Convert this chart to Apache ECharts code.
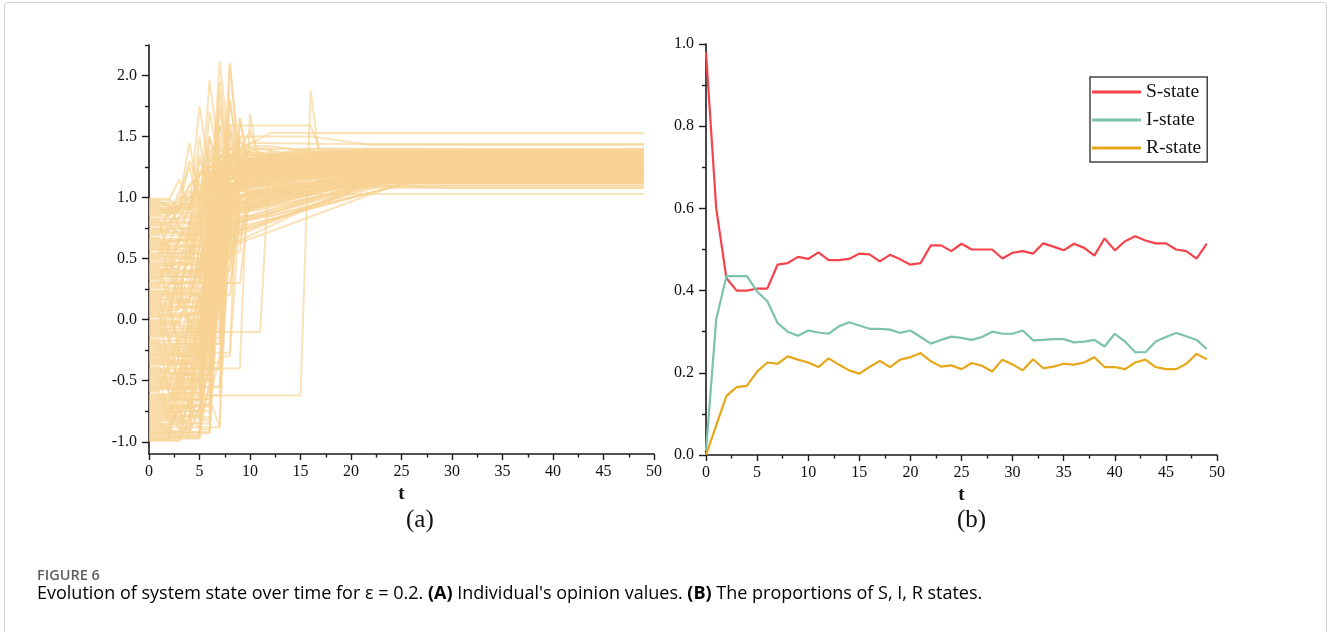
<!DOCTYPE html>
<html>
<head>
<meta charset="utf-8">
<script src="https://cdn.jsdelivr.net/npm/echarts@6/dist/echarts.min.js"></script>
<style>
html, body { margin: 0; padding: 0; background: #fff; }
#frame { position: absolute; left: 4px; top: 2px; width: 1321px; height: 660px; border: 1px solid #cfcfcf; border-radius: 4px; }
#main { position: absolute; left: 0; top: 0; width: 1328px; height: 632px; }
</style>
</head>
<body>
<div id="frame"></div>
<div id="main"></div>
<script>
// panel (a): each individual's opinion as [t, value, t, value, ...]; last value holds to t = 49
const opinionPaths = [
    [0,0.98, 2,0.98, 3,1.15, 4,0.9, 6,1.1, 10,1.2],
    [0,0.96, 3,0.96, 4,1.45, 5,1.0, 8,1.25, 14,1.3],
    [0,0.95, 2,0.95, 3,0.75, 5,1.1, 12,1.28],
    [0,0.93, 1,0.93, 2,0.85, 4,1.25, 5,0.95, 9,1.2, 20,1.35],
    [0,0.91, 4,0.91, 5,1.75, 6,1.2, 15,1.32],
    [0,0.89, 3,0.89, 4,1.05, 6,0.9, 7,1.6, 8,1.2, 18,1.38],
    [0,0.87, 5,0.87, 6,1.96, 7,1.3, 12,1.25],
    [0,0.85, 2,0.85, 3,0.95, 4,1.1, 8,1.4, 12,1.3],
    [0,0.83, 6,0.83, 7,2.12, 8,1.35, 11,1.4, 20,1.27],
    [0,0.81, 1,0.81, 2,0.5, 4,0.5, 5,1.35, 6,1.0, 10,1.15, 20,1.22],
    [0,0.79, 7,0.79, 8,2.1, 9,1.3, 16,1.25],
    [0,0.77, 3,0.77, 4,0.6, 6,0.6, 7,1.1, 9,1.05, 17,1.2],
    [0,0.75, 5,0.75, 6,1.7, 7,1.25, 49,1.36],
    [0,0.73, 2,0.73, 3,0.95, 5,0.95, 6,1.3, 9,1.45, 12,1.33],
    [0,0.71, 4,0.71, 5,1.5, 6,0.95, 8,0.85, 18,1.18],
    [0,0.69, 6,0.69, 7,1.85, 8,1.1, 15,1.3],
    [0,0.67, 1,0.67, 2,0.35, 5,0.35, 6,0.8, 9,0.9, 21,1.17],
    [0,0.65, 7,0.65, 8,1.8, 9,1.25, 14,1.38],
    [0,0.63, 3,0.63, 4,0.95, 7,1.25, 8,1.59, 16,1.59, 17,1.38],
    [0,0.61, 8,0.61, 9,1.65, 10,1.2, 20,1.3],
    [0,0.59, 2,0.59, 3,0.2, 6,0.2, 7,0.7, 10,0.75, 24,1.15],
    [0,0.57, 5,0.57, 6,1.5, 7,1.05, 12,1.2, 49,1.24],
    [0,0.55, 9,0.55, 10,1.3, 14,1.25],
    [0,0.53, 1,0.53, 2,0.8, 4,0.8, 5,1.2, 7,1.3, 12,1.53],
    [0,0.51, 4,0.51, 5,0.9, 7,0.9, 8,1.55, 9,1.15, 19,1.28],
    [0,0.49, 2,0.49, 3,0.1, 5,0.1, 6,0.65, 9,0.7, 22,1.12],
    [0,0.47, 6,0.47, 7,1.6, 8,1.2, 13,1.33],
    [0,0.45, 3,0.45, 4,0.75, 8,0.75, 9,1.5, 10,1.25, 49,1.3],
    [0,0.43, 1,0.43, 2,0.15, 4,0.15, 5,0.55, 8,0.6, 25,1.12],
    [0,0.41, 7,0.41, 8,1.55, 9,1.1, 18,1.2],
    [0,0.39, 5,0.39, 6,1.2, 10,1.45, 18,1.44],
    [0,0.37, 2,0.37, 3,0.65, 5,0.65, 6,0.4, 7,0.9, 11,1.0, 20,1.16],
    [0,0.35, 4,0.35, 5,1.0, 6,1.0, 7,1.4, 9,1.25, 49,1.26],
    [0,0.33, 3,0.33, 4,-0.1, 6,-0.1, 7,0.85, 12,0.95, 23,1.15],
    [0,0.30, 9,0.30, 10,1.05, 18,1.1, 26,1.18],
    [0,0.28, 1,0.28, 2,0.6, 6,0.6, 7,1.35, 10,1.3],
    [0,0.26, 5,0.26, 6,0.75, 8,0.7, 9,1.2, 16,1.32],
    [0,0.24, 2,0.24, 3,-0.35, 4,-0.35, 5,0.45, 8,0.5, 9,0.9, 20,1.1, 28,1.16],
    [0,0.22, 6,0.22, 7,1.05, 9,1.1, 15,1.27],
    [0,0.20, 3,0.20, 4,0.55, 7,0.55, 8,1.2, 12,1.35],
    [0,0.18, 1,0.18, 2,-0.2, 5,-0.2, 6,0.3, 7,0.3, 8,0.95, 14,1.05, 24,1.2],
    [0,0.16, 4,0.16, 5,0.6, 6,0.6, 7,1.45, 8,1.2, 49,1.22],
    [0,0.14, 7,0.14, 8,1.0, 10,0.9, 21,1.13],
    [0,0.12, 2,0.12, 3,0.4, 5,0.4, 6,1.1, 8,1.3, 16,1.4],
    [0,0.10, 5,0.10, 6,0.5, 8,0.5, 9,0.85, 12,0.85, 25,1.14],
    [0,0.08, 3,0.08, 4,0.8, 5,0.7, 6,1.25, 7,1.35, 14,1.3],
    [0,0.06, 1,0.06, 2,-0.45, 4,-0.45, 5,0.2, 7,0.2, 8,1.25, 13,1.2],
    [0,0.04, 6,0.04, 7,0.6, 9,0.65, 10,0.95, 19,1.15],
    [0,0.02, 4,0.02, 5,-0.3, 6,-0.3, 7,0.9, 12,1.1, 22,1.24],
    [0,0.00, 2,0.00, 3,0.5, 6,0.5, 7,1.5, 8,1.1, 16,1.35],
    [0,-0.02, 5,-0.02, 6,0.35, 7,0.35, 8,0.8, 11,0.85, 24,1.17],
    [0,-0.04, 3,-0.04, 4,0.3, 5,0.3, 6,1.0, 8,1.35, 49,1.37],
    [0,-0.06, 1,-0.06, 2,0.25, 4,0.25, 5,0.9, 7,1.0, 13,1.2],
    [0,-0.08, 7,-0.08, 8,1.0, 9,1.25, 49,1.34],
    [0,-0.10, 11,-0.10, 12,1.4, 13,1.2, 49,1.23],
    [0,-0.12, 2,-0.12, 3,-0.55, 5,-0.55, 6,0.1, 7,0.1, 8,0.7, 11,0.8, 26,1.13],
    [0,-0.14, 4,-0.14, 5,0.65, 6,0.65, 7,1.3, 11,1.28],
    [0,-0.17, 6,-0.17, 7,0.5, 8,0.5, 9,1.1, 15,1.25],
    [0,-0.19, 1,-0.19, 2,-0.6, 3,-0.6, 4,0.05, 6,0.05, 7,1.25, 9,1.2],
    [0,-0.21, 3,-0.21, 4,0.15, 6,0.15, 7,0.8, 10,0.85, 24,1.18],
    [0,-0.23, 5,-0.23, 6,0.4, 8,0.4, 9,1.0, 17,1.2],
    [0,-0.25, 3,-0.25, 4,-0.05, 6,-0.05, 7,1.1, 8,1.2, 49,1.3],
    [0,-0.27, 8,-0.27, 9,1.65, 10,1.2, 22,1.22],
    [0,-0.29, 4,-0.29, 5,-0.05, 7,-0.05, 8,0.9, 12,1.0, 25,1.2],
    [0,-0.31, 2,-0.31, 3,-0.5, 5,-0.5, 6,0.7, 7,0.75, 8,1.1, 14,1.36],
    [0,-0.33, 6,-0.33, 7,0.2, 8,0.2, 9,0.95, 20,1.2],
    [0,-0.35, 3,-0.35, 4,-0.75, 5,-0.75, 6,0.3, 7,0.3, 8,1.15, 12,1.27],
    [0,-0.37, 5,-0.37, 6,1.2, 9,1.3, 49,1.32],
    [0,-0.40, 9,-0.40, 10,1.69, 11,1.2, 20,1.25],
    [0,-0.42, 2,-0.42, 3,-0.1, 5,-0.1, 6,0.55, 7,0.55, 8,1.0, 12,1.08, 23,1.2],
    [0,-0.44, 5,-0.44, 6,-0.15, 7,-0.15, 8,0.95, 9,1.2],
    [0,-0.46, 1,-0.46, 2,-0.8, 4,-0.8, 5,-0.2, 6,-0.2, 7,1.1, 10,1.15, 49,1.16],
    [0,-0.48, 6,-0.48, 7,0.7, 10,0.75, 23,1.14],
    [0,-0.50, 3,-0.50, 4,-0.15, 5,-0.15, 6,0.85, 7,1.95, 8,1.25, 49,1.3],
    [0,-0.52, 5,-0.52, 6,-0.1, 7,-0.1, 8,0.75, 11,0.8, 27,1.15],
    [0,-0.54, 2,-0.54, 3,-0.3, 6,-0.3, 7,1.0, 9,1.18],
    [0,-0.56, 4,-0.56, 5,0.0, 6,0.0, 7,1.2, 9,1.4, 49,1.39],
    [0,-0.58, 1,-0.58, 2,-0.35, 5,-0.35, 6,0.3, 7,1.0, 10,1.25],
    [0,-0.62, 15,-0.62, 16,1.88, 17,1.25],
    [0,-0.64, 3,-0.64, 4,-0.2, 5,-0.2, 6,0.6, 8,0.6, 9,1.0, 18,1.12],
    [0,-0.66, 5,-0.66, 6,-0.4, 7,-0.4, 8,1.1, 11,1.2],
    [0,-0.68, 2,-0.68, 3,-0.9, 4,-0.9, 5,0.1, 6,0.1, 7,1.15, 13,1.3],
    [0,-0.70, 6,-0.70, 7,0.4, 8,0.4, 9,0.95, 14,1.0, 22,1.15],
    [0,-0.72, 4,-0.72, 5,-0.45, 6,-0.45, 7,0.8, 8,1.8, 9,1.2, 49,1.28],
    [0,-0.74, 2,-0.74, 3,-0.5, 6,-0.5, 7,1.3, 10,1.35],
    [0,-0.76, 3,-0.76, 4,-0.25, 6,-0.25, 7,0.75, 9,0.8, 21,1.1, 30,1.08],
    [0,-0.78, 5,-0.78, 6,0.2, 7,0.2, 8,1.2, 12,1.25],
    [0,-0.80, 2,-0.80, 3,-0.6, 5,-0.6, 6,0.35, 7,1.15, 15,1.27],
    [0,-0.82, 4,-0.82, 5,0.0, 7,0.0, 8,0.85, 10,0.9, 26,1.16],
    [0,-0.84, 1,-0.84, 2,-0.95, 5,-0.95, 6,0.45, 7,0.45, 8,1.3, 49,1.4],
    [0,-0.86, 3,-0.86, 4,-0.5, 5,-0.5, 6,0.9, 8,1.1, 18,1.2],
    [0,-0.88, 7,-0.88, 8,2.10, 9,1.2, 30,1.27],
    [0,-0.90, 2,-0.90, 3,-0.7, 4,-0.7, 5,0.25, 7,0.25, 8,1.0, 11,1.02, 20,1.03],
    [0,-0.92, 5,-0.92, 6,0.8, 7,0.8, 8,1.4, 12,1.33],
    [0,-0.94, 2,-0.94, 3,-0.65, 5,-0.65, 6,0.15, 7,0.95, 10,1.1],
    [0,-0.96, 4,-0.96, 5,-0.3, 6,-0.3, 7,1.0, 9,1.5, 16,1.5, 22,1.43],
    [0,-0.97, 5,-0.97, 6,0.5, 7,0.5, 8,1.25, 14,1.24],
    [0,-0.98, 2,-0.98, 3,-0.4, 5,-0.4, 6,1.35, 7,1.1, 12,1.18],
    [0,-0.99, 3,-0.99, 4,-0.6, 5,-0.6, 6,0.7, 8,0.75, 9,1.15, 17,1.22],
    [0,-0.95, 5,-0.95, 6,-0.5, 7,0.6, 9,0.65, 20,1.08],
    [0,0.97, 1,0.97, 2,0.92, 5,0.92, 6,1.25, 9,1.3, 16,1.36],
    [0,0.94, 4,0.94, 5,1.2, 6,1.35, 8,1.15, 14,1.22],
    [0,0.90, 2,0.90, 3,1.0, 5,1.0, 6,1.5, 7,1.2, 15,1.29],
    [0,0.86, 1,0.86, 2,0.92, 4,0.92, 5,1.1, 7,1.2, 10,1.25, 18,1.31],
    [0,0.82, 3,0.82, 4,1.0, 6,1.1, 7,1.75, 8,1.3, 20,1.34],
    [0,0.78, 2,0.78, 3,0.7, 5,0.7, 6,1.15, 8,1.0, 20,1.14],
    [0,0.74, 4,0.74, 5,1.05, 7,1.05, 8,1.4, 12,1.35, 22,1.33],
    [0,0.70, 1,0.70, 2,0.9, 3,0.9, 4,1.3, 5,1.1, 9,1.2, 18,1.26],
    [0,0.66, 5,0.66, 6,0.9, 8,0.9, 9,1.3, 13,1.28],
    [0,0.62, 2,0.62, 3,0.85, 5,0.85, 6,1.05, 8,1.25, 20,1.39],
    [0,0.58, 3,0.58, 4,0.7, 6,0.7, 7,1.2, 8,1.45, 9,1.2, 17,1.3],
    [0,0.54, 6,0.54, 7,0.95, 8,0.9, 10,1.0, 23,1.2],
    [0,0.50, 1,0.50, 2,0.65, 4,0.65, 5,0.95, 7,1.15, 14,1.27],
    [0,0.46, 4,0.46, 5,0.8, 6,1.4, 7,1.2, 49,1.33],
    [0,0.42, 3,0.42, 4,0.6, 5,0.6, 6,0.95, 9,1.0, 21,1.19],
    [0,0.38, 7,0.38, 8,1.3, 10,1.35, 24,1.3],
    [0,0.34, 1,0.34, 2,0.45, 5,0.45, 6,0.85, 8,1.1, 16,1.2],
    [0,0.31, 5,0.31, 6,0.7, 7,0.7, 8,1.6, 9,1.3, 15,1.37],
    [0,0.27, 2,0.27, 3,0.45, 6,0.45, 7,0.75, 9,0.8, 22,1.1],
    [0,0.23, 4,0.23, 5,0.4, 7,0.4, 8,1.1, 11,1.25],
    [0,0.19, 3,0.19, 4,0.0, 6,0.0, 7,0.6, 8,1.35, 12,1.3],
    [0,0.15, 1,0.15, 2,0.3, 4,0.3, 5,0.75, 6,0.75, 7,1.2, 18,1.23],
    [0,0.11, 6,0.11, 7,0.3, 8,0.3, 9,0.8, 12,0.85, 26,1.12],
    [0,0.07, 2,0.07, 3,-0.2, 5,-0.2, 6,0.45, 7,1.0, 10,1.1, 16,1.19],
    [0,0.03, 4,0.03, 5,0.35, 6,0.35, 7,0.95, 8,1.25, 49,1.27],
    [0,-0.01, 3,-0.01, 4,0.2, 6,0.2, 7,1.1, 9,1.3, 20,1.35],
    [0,-0.05, 5,-0.05, 6,0.6, 7,1.05, 12,1.15, 28,1.2],
    [0,-0.09, 2,-0.09, 3,0.15, 4,0.15, 5,0.5, 7,0.5, 8,1.15, 14,1.28],
    [0,-0.13, 6,-0.13, 7,0.7, 8,1.55, 9,1.25, 49,1.29],
    [0,-0.16, 1,-0.16, 2,0.1, 3,0.1, 4,0.4, 6,0.4, 7,0.85, 11,0.9, 25,1.17],
    [0,-0.20, 4,-0.20, 5,0.25, 7,0.25, 8,0.85, 9,1.2, 19,1.24],
    [0,-0.24, 3,-0.24, 4,-0.5, 6,-0.5, 7,0.65, 9,0.7, 10,1.05, 22,1.16],
    [0,-0.28, 5,-0.28, 6,0.05, 7,0.05, 8,1.05, 13,1.2],
    [0,-0.32, 2,-0.32, 3,-0.15, 5,-0.15, 6,0.95, 7,1.35, 9,1.2, 15,1.26],
    [0,-0.36, 6,-0.36, 7,0.25, 8,0.9, 12,0.95, 24,1.19],
    [0,-0.39, 1,-0.39, 2,-0.6, 4,-0.6, 5,-0.25, 6,-0.25, 7,1.2, 10,1.3],
    [0,-0.43, 4,-0.43, 5,-0.65, 6,-0.65, 7,0.45, 8,1.05, 17,1.18],
    [0,-0.47, 3,-0.47, 4,0.05, 5,0.05, 6,0.9, 7,1.7, 8,1.3, 49,1.35],
    [0,-0.51, 2,-0.51, 3,-0.75, 5,-0.75, 6,0.15, 7,0.15, 8,0.95, 12,1.0, 24,1.2],
    [0,-0.55, 5,-0.55, 6,0.3, 7,1.05, 11,1.15, 20,1.21],
    [0,-0.59, 1,-0.59, 2,-0.85, 3,-0.85, 4,-0.4, 6,-0.4, 7,0.85, 8,1.25, 18,1.3],
    [0,-0.61, 3,-0.61, 4,-0.3, 5,-0.3, 6,0.6, 7,0.6, 8,1.3, 12,1.34],
    [0,-0.65, 6,-0.65, 7,-0.3, 8,-0.3, 9,0.9, 12,1.0, 27,1.17],
    [0,-0.69, 2,-0.69, 3,-0.45, 5,-0.45, 6,0.5, 7,1.25, 13,1.24],
    [0,-0.73, 4,-0.73, 5,-0.9, 6,-0.9, 7,0.3, 8,0.95, 16,1.1, 30,1.14],
    [0,-0.77, 2,-0.77, 3,-0.55, 5,-0.55, 6,0.0, 7,1.15, 9,1.25],
    [0,-0.81, 3,-0.81, 4,-0.95, 5,-0.95, 6,-0.2, 7,-0.2, 8,1.2, 14,1.32],
    [0,-0.85, 5,-0.85, 6,-0.55, 7,-0.55, 8,0.6, 9,1.1, 20,1.2],
    [0,-0.89, 2,-0.89, 3,-0.97, 5,-0.97, 6,0.0, 7,0.95, 9,1.05, 24,1.13],
    [0,-0.93, 4,-0.93, 5,-0.7, 6,-0.7, 7,0.5, 8,1.35, 49,1.38],
    [0,-0.99, 3,-0.99, 4,-0.8, 6,-0.8, 7,1.2, 9,1.28],
    [0,-0.91, 3,-0.91, 4,-0.65, 6,-0.65, 7,-0.88, 8,0.9, 10,1.0, 25,1.14],
    [0,0.99, 2,0.99, 3,0.9, 4,0.9, 5,1.2, 10,1.25, 30,1.26],
    [0,0.88, 4,0.88, 5,1.3, 6,1.15, 12,1.31],
    [0,0.60, 5,0.60, 6,1.0, 7,1.0, 8,1.2, 10,1.55, 11,1.3, 20,1.35],
    [0,0.40, 2,0.40, 3,0.55, 4,0.55, 5,1.05, 7,1.1, 12,1.3],
    [0,-0.45, 5,-0.45, 6,0.8, 8,0.85, 10,1.1, 20,1.15],
    [0,0.13, 3,0.13, 4,0.7, 5,0.7, 6,1.2, 9,1.42, 12,1.42, 18,1.36],
    [0,-0.97, 3,-0.97, 4,-0.85, 6,-0.85, 7,0.9, 8,1.1, 20,1.2],
    [0,-0.93, 6,-0.93, 7,0.7, 8,1.0, 18,1.18],
    [0,-0.87, 2,-0.87, 3,-0.75, 6,-0.75, 7,1.05, 12,1.22],
    [0,-0.83, 4,-0.83, 5,-0.62, 7,-0.62, 8,1.2, 14,1.3],
    [0,-0.79, 5,-0.79, 6,-0.35, 7,-0.35, 8,1.05, 11,1.15, 20,1.27],
    [0,-0.75, 3,-0.75, 4,-0.92, 6,-0.92, 7,0.8, 9,1.0, 22,1.19],
    [0,-0.71, 6,-0.71, 7,0.6, 8,1.3, 49,1.31],
    [0,-0.67, 2,-0.67, 3,-0.4, 6,-0.4, 7,1.2, 15,1.25],
    [0,-0.63, 4,-0.63, 5,-0.82, 6,-0.82, 7,0.5, 8,0.9, 22,1.17],
    [0,-0.57, 5,-0.57, 6,-0.2, 7,-0.2, 8,1.15, 13,1.33],
    [0,-0.53, 3,-0.53, 4,-0.7, 6,-0.7, 7,0.95, 10,1.05, 24,1.22],
    [0,-0.49, 6,-0.49, 7,1.15, 9,1.25],
    [0,-0.41, 2,-0.41, 3,-0.25, 5,-0.25, 6,-0.45, 7,0.85, 11,0.95, 23,1.18],
    [0,-0.34, 4,-0.34, 5,-0.55, 7,-0.55, 8,1.0, 12,1.2],
    [0,-0.30, 6,-0.30, 7,0.1, 8,0.95, 16,1.3],
    [0,-0.26, 3,-0.26, 4,-0.45, 6,-0.45, 7,1.1, 10,1.28],
    [0,-0.22, 5,-0.22, 6,-0.4, 7,-0.4, 8,0.8, 10,0.85, 23,1.15],
    [0,-0.18, 2,-0.18, 3,0.05, 6,0.05, 7,1.25, 11,1.34],
    [0,-0.11, 4,-0.11, 5,0.2, 7,0.2, 8,1.05, 14,1.23],
    [0,-0.07, 6,-0.07, 7,0.45, 8,1.2, 20,1.38],
    [0,-0.03, 3,-0.03, 4,-0.25, 6,-0.25, 7,0.9, 9,1.0, 21,1.2],
    [0,0.05, 5,0.05, 6,0.25, 7,0.25, 8,1.1, 12,1.26],
    [0,0.09, 2,0.09, 3,0.3, 6,0.3, 7,1.15, 10,1.2],
    [0,0.17, 4,0.17, 5,0.45, 7,0.45, 8,1.0, 16,1.12],
    [0,0.21, 6,0.21, 7,0.55, 8,1.25, 49,1.25],
    [0,0.29, 3,0.29, 4,0.5, 6,0.5, 7,1.0, 9,1.3, 17,1.29],
    [0,0.36, 5,0.36, 6,0.6, 7,0.6, 8,1.15, 13,1.21],
    [0,0.44, 2,0.44, 3,0.7, 5,0.7, 6,1.1, 8,1.05, 18,1.24],
    [0,0.52, 4,0.52, 5,0.85, 6,0.85, 7,1.2, 11,1.32],
    [0,0.64, 3,0.64, 4,0.8, 6,0.8, 7,1.3, 10,1.37],
    [0,0.72, 5,0.72, 6,1.1, 8,1.2, 15,1.34],
    [0,0.80, 2,0.80, 3,0.9, 4,1.1, 7,1.2, 12,1.3],
    [0,0.92, 3,0.92, 4,1.0, 5,1.05, 9,1.25, 20,1.3]
];

// panel (b): proportions of S, I, R at t = 0..49
const tSteps = [0,1,2,3,4,5,6,7,8,9,10,11,12,13,14,15,16,17,18,19,20,21,22,23,24,
    25,26,27,28,29,30,31,32,33,34,35,36,37,38,39,40,41,42,43,44,45,46,47,48,49];
const sState = [0.98,0.60,0.43,0.40,0.40,0.405,0.405,0.463,0.467,0.482,0.477,0.493,0.474,0.474,0.477,
    0.49,0.488,0.471,0.487,0.476,0.463,0.467,0.51,0.51,0.496,0.514,0.50,0.50,0.50,0.478,0.492,0.496,
    0.49,0.515,0.507,0.498,0.514,0.504,0.485,0.527,0.498,0.52,0.532,0.522,0.515,0.515,0.50,0.496,0.478,0.514];
const iState = [0.01,0.33,0.435,0.435,0.435,0.398,0.374,0.321,0.30,0.29,0.303,0.298,0.295,0.313,0.323,
    0.315,0.307,0.307,0.305,0.297,0.303,0.287,0.271,0.28,0.288,0.285,0.28,0.287,0.30,0.295,0.295,0.303,
    0.279,0.28,0.282,0.282,0.274,0.276,0.28,0.264,0.295,0.276,0.25,0.25,0.276,0.287,0.297,0.289,0.28,0.258];
const rState = [0,0.072,0.144,0.165,0.168,0.203,0.225,0.222,0.24,0.232,0.225,0.214,0.235,0.22,0.206,
    0.198,0.214,0.229,0.214,0.232,0.238,0.248,0.228,0.215,0.218,0.209,0.224,0.217,0.203,0.232,0.22,0.206,
    0.233,0.211,0.215,0.222,0.22,0.225,0.238,0.214,0.214,0.209,0.225,0.232,0.214,0.209,0.209,0.222,0.246,0.233];

const yLabelsA = [-1, -0.5, 0, 0.5, 1, 1.5, 2];
const yMinorA = [-0.75, -0.25, 0.25, 0.75, 1.25, 1.75, 2.25];

const chart = echarts.init(document.getElementById('main'));
const serif = '"Liberation Serif", "Times New Roman", serif';
const ink = '#1a1a1a';

const axisLine = { show: true, onZero: false, lineStyle: { color: ink, width: 1.6 } };
const tickStyle = { color: ink, width: 1.4 };
const labelStyle = { fontFamily: serif, fontSize: 16, color: '#111' };

function xAxisFor(gridIndex) {
    return {
        type: 'value', gridIndex: gridIndex, min: 0, max: 50, interval: 5,
        axisLine: axisLine,
        axisTick: { length: 6, lineStyle: tickStyle },
        minorTick: { show: true, splitNumber: 2, length: 3.5, lineStyle: tickStyle },
        axisLabel: Object.assign({ margin: 10 }, labelStyle),
        splitLine: { show: false },
        name: 't', nameLocation: 'middle', nameGap: 28,
        nameTextStyle: { fontFamily: serif, fontSize: 19, fontWeight: 'bold', color: '#111' }
    };
}

const pathSeries = opinionPaths.map(p => {
    const pts = [];
    for (let k = 0; k < p.length; k += 2) pts.push([p[k], p[k + 1]]);
    const last = pts[pts.length - 1];
    if (last[0] < 49) pts.push([49, last[1]]);
    return {
        type: 'line', xAxisIndex: 0, yAxisIndex: 0, data: pts,
        showSymbol: false, silent: true, z: 2,
        lineStyle: { color: '#f7d393', width: 2, opacity: 0.65 }
    };
});

function stateSeries(name, values, color) {
    return {
        name: name, type: 'line', xAxisIndex: 1, yAxisIndex: 2,
        data: tSteps.map((t, i) => [t, values[i]]),
        showSymbol: false, silent: true, z: 3,
        lineStyle: { color: color, width: 2.2 },
        itemStyle: { color: color }
    };
}

const option = {
    animation: false,
    grid: [
        { left: 149, top: 45, width: 505, height: 409 },
        { left: 706, top: 44, width: 511, height: 411 }
    ],
    xAxis: [xAxisFor(0), xAxisFor(1)],
    yAxis: [
        {
            type: 'value', gridIndex: 0, min: -1.1, max: 2.25,
            axisLine: axisLine,
            axisTick: { customValues: yLabelsA, length: 7, lineStyle: tickStyle },
            axisLabel: Object.assign({ customValues: yLabelsA, margin: 12, formatter: v => v.toFixed(1) }, labelStyle),
            splitLine: { show: false }
        },
        {
            type: 'value', gridIndex: 0, min: -1.1, max: 2.25, position: 'left', offset: 0,
            axisLine: { show: false },
            axisTick: { show: true, customValues: yMinorA, length: 4, lineStyle: tickStyle },
            axisLabel: { show: false, customValues: yMinorA },
            splitLine: { show: false }
        },
        {
            type: 'value', gridIndex: 1, min: 0, max: 1, interval: 0.2,
            axisLine: axisLine,
            axisTick: { length: 7, lineStyle: tickStyle },
            minorTick: { show: true, splitNumber: 2, length: 4, lineStyle: tickStyle },
            axisLabel: Object.assign({ margin: 12, formatter: v => v.toFixed(1) }, labelStyle),
            splitLine: { show: false }
        }
    ],
    legend: {
        data: ['S-state', 'I-state', 'R-state'],
        orient: 'vertical', left: 1090, top: 77,
        icon: 'rect', itemWidth: 49, itemHeight: 3, itemGap: 8,
        padding: [5, 6, 4, 2],
        backgroundColor: '#fff', borderColor: '#444', borderWidth: 1.5, borderRadius: 0,
        textStyle: { fontFamily: serif, fontSize: 19.5, color: '#111', lineHeight: 19 }
    },
    graphic: [
        { type: 'text', left: 406, top: 508, style: { text: '(a)', font: '25px "Liberation Serif", serif', fill: '#111' } },
        { type: 'text', left: 957, top: 508, style: { text: '(b)', font: '25px "Liberation Serif", serif', fill: '#111' } },
        { type: 'text', left: 37, top: 568, style: { text: 'FIGURE 6', font: '600 14.5px "Open Sans", sans-serif', fill: '#5f5f5f' } },
        {
            type: 'text', left: 37, top: 585,
            style: {
                text: '{n|Evolution of system state over time for ε = 0.2. }{b|(A)}{n| Individual\'s opinion values. }{b|(B)}{n| The proportions of S, I, R states.}',
                rich: {
                    n: { fontFamily: '"Open Sans", sans-serif', fontSize: 18, color: '#5a5a5a' },
                    b: { fontFamily: '"Open Sans", sans-serif', fontSize: 18, fontWeight: 'bold', color: '#444' }
                }
            }
        }
    ],
    series: pathSeries.concat([
        stateSeries('S-state', sState, '#f5434b'),
        stateSeries('I-state', iState, '#7cc2ad'),
        stateSeries('R-state', rState, '#e6a71b')
    ])
};

chart.setOption(option);
</script>
</body>
</html>
